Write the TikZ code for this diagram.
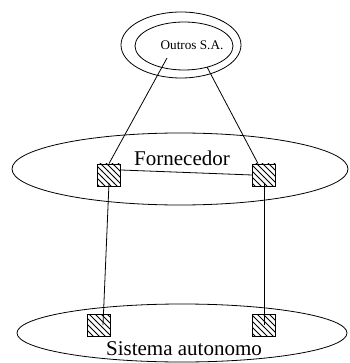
\documentclass[tikz,border=0pt]{standalone}
\usepackage{fontspec}
\setmainfont{Liberation Serif}
\usetikzlibrary{patterns}

\begin{document}
\begin{tikzpicture}[x=0.5pt,y=-0.5pt,
  caixa/.style={draw,pattern=north west lines,minimum width=11.5pt,minimum height=11pt,inner sep=0pt},
  rotulo/.style={font=\fontsize{10.5}{12}\selectfont}]
\useasboundingbox (0,0) rectangle (349,363);
% Outros S.A.
\draw (181,45) ellipse [x radius=60, y radius=33];
\draw (184,46) ellipse [x radius=49, y radius=24];
\node[font=\fontsize{6.6}{8}\selectfont] (outros) at (192,45) {Outros S.A.};
% Fornecedor
\draw (180,169) ellipse [x radius=168, y radius=36];
\node[rotulo] (forn) at (182,158) {Fornecedor};
% Sistema autonomo
\draw (182,333) ellipse [x radius=165, y radius=29];
\node[rotulo] (sist) at (184,349) {Sistema autonomo};
% Caixas
\node[caixa] (fa) at (109,175) {};
\node[caixa] (fb) at (264,175) {};
\node[caixa] (sa) at (99,325) {};
\node[caixa] (sb) at (264,325) {};
\coordinate (oa) at (167,58);
\coordinate (ob) at (207,67);
% Ligacoes
\draw (oa) -- (fa.north);
\draw (ob) -- ([xshift=-3pt]fb.north);
\draw ([yshift=2.5pt]fa.east) -- (fb.west);
\draw ([yshift=-4pt]fa.center) -- ([xshift=2pt]sa.center);
\draw ([yshift=-4pt]fb.center) -- (sb.center);
\end{tikzpicture}
\end{document}
